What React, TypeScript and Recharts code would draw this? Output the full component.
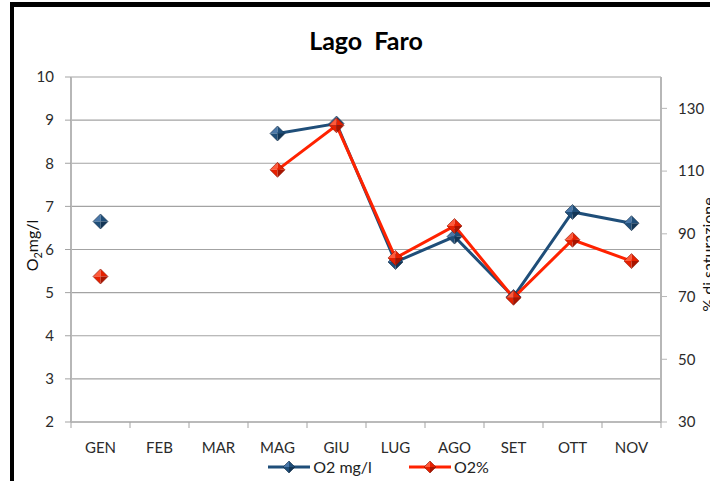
import { LineChart, Line, XAxis, YAxis, CartesianGrid } from "recharts";

const months = ["GEN", "FEB", "MAR", "MAG", "GIU", "LUG", "AGO", "SET", "OTT", "NOV"];
const o2mg = [6.65, null, null, 8.69, 8.92, 5.71, 6.3, 4.9, 6.87, 6.61];
const o2pct = [76.4, null, null, 110.4, 124.6, 82.3, 92.5, 69.6, 88.1, 81.3];
const leftTicks = [2, 3, 4, 5, 6, 7, 8, 9, 10];
const rightTicks = [30, 50, 70, 90, 110, 130];

const data = months.map((m, i) => ({ m, mg: o2mg[i], pct: o2pct[i] }));

const FONT = "Lato, 'Open Sans', sans-serif";
const BLUE = "#1F4E79";
const RED = "#FF2200";
const AXIS = "#b7b7b7";
const GRID = "#a3a3a3";

const shades = {
  blue: { light: "#4a77a8", mid: "#1f4e79", dark: "#133555", edge: "#0f2b47" },
  red: { light: "#ff5a3a", mid: "#e52000", dark: "#a81400", edge: "#8c1000" },
};

function Diamond({ cx, cy, s, c }: { cx: number; cy: number; s: number; c: typeof shades.blue }) {
  return (
    <g>
      <polygon points={`${cx},${cy - s} ${cx - s},${cy} ${cx},${cy}`} fill={c.light} />
      <polygon points={`${cx},${cy - s} ${cx + s},${cy} ${cx},${cy}`} fill={c.mid} />
      <polygon points={`${cx - s},${cy} ${cx},${cy + s} ${cx},${cy}`} fill={c.mid} />
      <polygon points={`${cx + s},${cy} ${cx},${cy + s} ${cx},${cy}`} fill={c.dark} />
      <polygon
        points={`${cx},${cy - s} ${cx + s},${cy} ${cx},${cy + s} ${cx - s},${cy}`}
        fill="none"
        stroke={c.edge}
        strokeWidth={0.6}
      />
    </g>
  );
}

const makeDot = (c: typeof shades.blue) => (props: any) => {
  const { cx, cy, index, value } = props;
  if (value == null || cx == null || cy == null) return <g key={`e-${index}`} />;
  return (
    <g key={`d-${index}`}>
      <Diamond cx={cx} cy={cy} s={7.5} c={c} />
    </g>
  );
};

// category label plus Excel-style tick marks on the category boundaries
const CatTick = (props: any) => {
  const { x, y, payload, index, width, visibleTicksCount } = props;
  const half = width / visibleTicksCount / 2;
  const top = y - 20;
  return (
    <g>
      <line x1={x - half} y1={top} x2={x - half} y2={top + 6} stroke={GRID} />
      {index === visibleTicksCount - 1 && (
        <line x1={x + half} y1={top} x2={x + half} y2={top + 6} stroke={GRID} />
      )}
      <text x={x} y={y} dy="0.71em" textAnchor="middle" fontFamily={FONT} fontSize={15} fill="#2b2b2b">
        {payload.value}
      </text>
    </g>
  );
};

function LegendBox() {
  const item = (color: string, c: typeof shades.blue, label: string) => (
    <div style={{ display: "flex", alignItems: "center" }}>
      <svg width={44} height={16}>
        <line x1={1} y1={8} x2={43} y2={8} stroke={color} strokeWidth={3} />
        <Diamond cx={22} cy={8} s={6} c={c} />
      </svg>
      <span style={{ marginLeft: 2 }}>{label}</span>
    </div>
  );
  return (
    <div
      style={{
        position: "absolute",
        left: 0,
        top: 457,
        width: 710,
        display: "flex",
        justifyContent: "center",
        gap: 36,
        fontFamily: FONT,
        fontSize: 16,
        color: "#222",
        paddingLeft: 46,
        boxSizing: "border-box",
      }}
    >
      {item(BLUE, shades.blue, "O2 mg/l")}
      {item(RED, shades.red, "O2%")}
    </div>
  );
}

const leftLabel = (props: any) => {
  const vb = props.viewBox;
  const x = 38;
  const y = vb.y + vb.height / 2 - 4;
  return (
    <text
      x={x}
      y={y}
      transform={`rotate(-90, ${x}, ${y})`}
      textAnchor="middle"
      fontFamily={FONT}
      fontSize={16}
      fill="#111"
    >
      O<tspan fontSize={11} dy={4}>2</tspan>
      <tspan dy={-4}>mg/l</tspan>
    </text>
  );
};

const rightLabel = (props: any) => {
  const vb = props.viewBox;
  const x = 714;
  const y = vb.y + vb.height / 2 + 5;
  return (
    <text
      x={x}
      y={y}
      transform={`rotate(-90, ${x}, ${y})`}
      textAnchor="middle"
      fontFamily={FONT}
      fontSize={16}
      fill="#111"
    >
      % di saturazione
    </text>
  );
};

export default function App() {
  const tickStyle = { fontFamily: FONT, fontSize: 15, fill: "#2b2b2b" };
  return (
    <div style={{ position: "fixed", left: 0, top: 0, width: 710, height: 481, background: "#fff", overflow: "hidden" }}>
      <div style={{ position: "absolute", left: 10, top: 2, width: 4, height: 479, background: "#000" }} />
      <div style={{ position: "absolute", left: 10, top: 2, width: 700, height: 5, background: "#000" }} />
      <div
        style={{
          position: "absolute",
          left: 0,
          top: 25,
          width: 732,
          textAlign: "center",
          fontFamily: FONT,
          fontWeight: 700,
          fontSize: 25,
          color: "#000",
          whiteSpace: "pre",
        }}
      >
        Lago  Faro
      </div>
      <div style={{ position: "absolute", left: 0, top: 0 }}>
        <LineChart width={710} height={481} data={data} margin={{ top: 77, right: 0, bottom: 29, left: 0 }}>
          <CartesianGrid
            horizontal
            vertical={false}
            yAxisId="left"
            xAxisId="cat"
            stroke={GRID}
            strokeWidth={1.2}
          />
          <XAxis
            xAxisId="cat"
            dataKey="m"
            scale="band"
            height={30}
            tick={<CatTick />}
            tickLine={false}
            tickSize={6}
            tickMargin={14}
            axisLine={{ stroke: GRID, strokeWidth: 1.2 }}
            interval={0}
          />
          <YAxis
            yAxisId="left"
            domain={[2, 10]}
            ticks={leftTicks}
            width={71}
            tick={tickStyle}
            tickSize={6}
            tickMargin={11}
            tickLine={{ stroke: GRID }}
            axisLine={{ stroke: AXIS, strokeWidth: 2 }}
            label={leftLabel}
          />
          <YAxis
            yAxisId="right"
            orientation="right"
            domain={[30, 140]}
            ticks={rightTicks}
            width={49}
            tick={{ ...tickStyle, textAnchor: "start" }}
            tickSize={6}
            tickMargin={11}
            tickLine={{ stroke: AXIS }}
            axisLine={{ stroke: AXIS, strokeWidth: 2 }}
            label={rightLabel}
          />
          <Line
            xAxisId="cat"
            yAxisId="left"
            dataKey="mg"
            name="O2 mg/l"
            stroke={BLUE}
            strokeWidth={3}
            dot={makeDot(shades.blue)}
            activeDot={false}
            isAnimationActive={false}
          />
          <Line
            xAxisId="cat"
            yAxisId="right"
            dataKey="pct"
            name="O2%"
            stroke={RED}
            strokeWidth={3}
            dot={makeDot(shades.red)}
            activeDot={false}
            isAnimationActive={false}
          />
        </LineChart>
      </div>
      <LegendBox />
    </div>
  );
}
